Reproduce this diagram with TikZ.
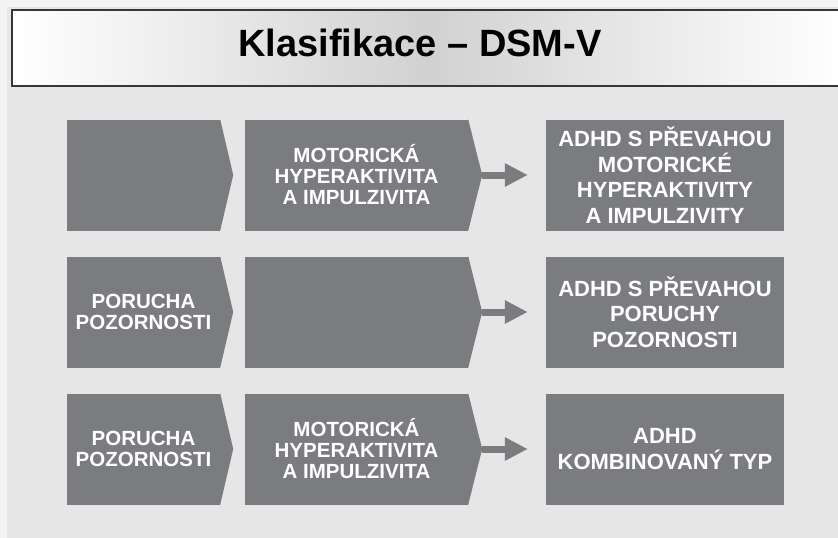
\documentclass[tikz,border=0pt]{standalone}
\usepackage{fontspec}
\setmainfont{Liberation Sans}
\usetikzlibrary{arrows.meta}
\definecolor{boxgray}{HTML}{7B7C7F}
\definecolor{panelgray}{HTML}{E6E6E6}
\definecolor{framegray}{HTML}{F4F4F4}
\definecolor{borderdark}{HTML}{363636}
\begin{document}
\begin{tikzpicture}[x=1pt,y=-1pt,
  lbox/.style={fill=boxgray, inner sep=0pt, minimum height=111pt, text=white,
    font=\bfseries\fontsize{20.5}{21}\selectfont, align=center},
  rbox/.style={fill=boxgray, inner sep=0pt, minimum width=238pt, minimum height=111pt, text=white,
    font=\bfseries\fontsize{22}{25.5}\selectfont, align=center},
  tipfill/.style={fill=boxgray},
  arr/.style={draw=boxgray, line width=7pt, -{Triangle[length=23pt,width=22pt]}},
  titlebox/.style={draw=borderdark, line width=2pt, left color=white, right color=white,
    middle color=black!18, minimum width=832pt, minimum height=76pt, inner sep=0pt},
  ttext/.style={font=\bfseries\fontsize{38}{40}\selectfont, text=black}
]
\useasboundingbox (0,0) rectangle (838,538);
\fill[framegray] (0,0) rectangle (838,538);
\fill[panelgray] (7,7) rectangle (838,538);
% title
\node[titlebox] (tbox) at (428,48) {};
\node[ttext, anchor=base] (title) at (420,56) {Klasifikace – DSM-V};
% row 1
\node[lbox, minimum width=153pt] (a1) at (143.5,175) {};
\node[lbox, minimum width=223pt] (b1) at (356.5,175) {MOTORICKÁ\\HYPERAKTIVITA\\A IMPULZIVITA};
\node[rbox] (c1) at (665,175) {ADHD S PŘEVAHOU\\MOTORICKÉ\\HYPERAKTIVITY\\A IMPULZIVITY};
% row 2
\node[lbox, minimum width=153pt] (a2) at (143.5,312) {PORUCHA\\POZORNOSTI};
\node[lbox, minimum width=223pt] (b2) at (356.5,312) {};
\node[rbox] (c2) at (665,312) {ADHD S PŘEVAHOU\\PORUCHY\\POZORNOSTI};
% row 3
\node[lbox, minimum width=153pt] (a3) at (143.5,449) {PORUCHA\\POZORNOSTI};
\node[lbox, minimum width=223pt] (b3) at (356.5,449) {MOTORICKÁ\\HYPERAKTIVITA\\A IMPULZIVITA};
\node[rbox] (c3) at (665,449) {ADHD\\KOMBINOVANÝ TYP};
% pointed tips and arrows
\foreach \r in {1,2,3}{
  \fill[tipfill] (a\r.north east) -- ([xshift=13pt]a\r.east) -- (a\r.south east) -- cycle;
  \fill[tipfill] (b\r.north east) -- ([xshift=14pt]b\r.east) -- (b\r.south east) -- cycle;
  \coordinate (t\r) at ([xshift=14pt]b\r.east);
  \coordinate (h\r) at ([xshift=-18pt]c\r.west);
  \draw[arr] (t\r) -- (h\r);
}
\end{tikzpicture}
\end{document}
